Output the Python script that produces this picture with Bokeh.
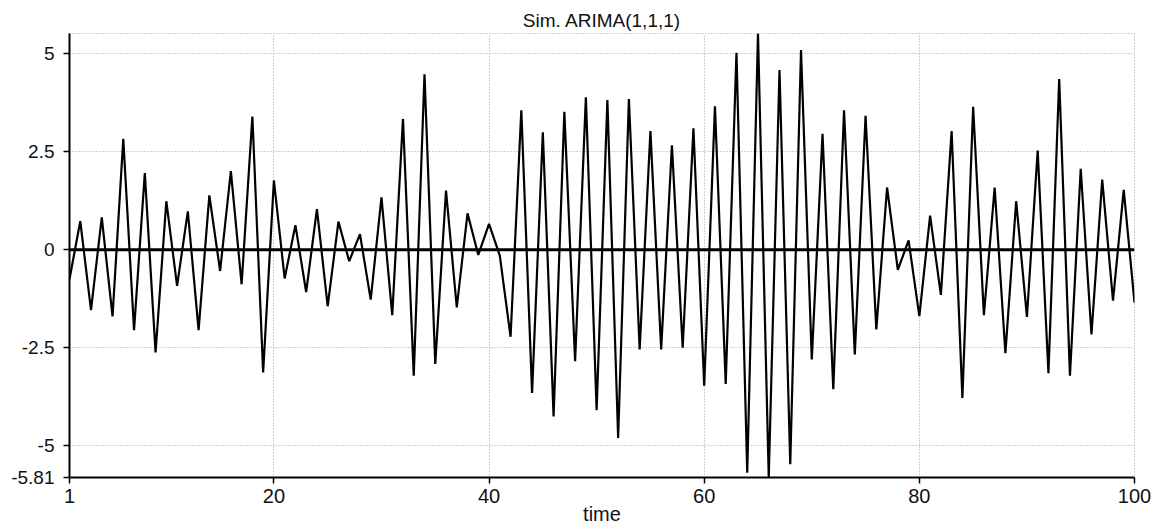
from bokeh.plotting import figure
from bokeh.models import Range1d, FixedTicker, Span
from bokeh.embed import file_html
from bokeh.resources import INLINE

# ---- data ----
time = list(range(1, 101))
values = [
    -0.75, 0.73, -1.54, 0.83, -1.70, 2.83, -2.05, 1.96, -2.62, 1.24,
    -0.92, 0.98, -2.05, 1.39, -0.54, 2.01, -0.88, 3.40, -3.13, 1.77,
    -0.73, 0.63, -1.08, 1.04, -1.44, 0.72, -0.29, 0.40, -1.27, 1.34,
    -1.67, 3.34, -3.21, 4.48, -2.91, 1.51, -1.47, 0.93, -0.13, 0.66,
    -0.15, -2.22, 3.56, -3.65, 3.00, -4.25, 3.52, -2.84, 3.89, -4.09,
    3.82, -4.80, 3.85, -2.54, 3.03, -2.54, 2.67, -2.50, 3.10, -3.47,
    3.66, -3.42, 5.03, -5.69, 5.52, -5.81, 4.59, -5.47, 5.10, -2.80,
    2.96, -3.56, 3.56, -2.67, 3.42, -2.03, 1.59, -0.51, 0.24, -1.69,
    0.87, -1.15, 3.03, -3.78, 3.65, -1.67, 1.59, -2.64, 1.24, -1.71,
    2.53, -3.15, 4.36, -3.21, 2.07, -2.16, 1.79, -1.30, 1.53, -1.35,
]
y_ticks = [-5.81, -5, -2.5, 0, 2.5, 5]
y_tick_labels = ["-5.81", "-5", "-2.5", "0", "2.5", "5"]
y_grid = [-5, -2.5, 2.5, 5]
x_ticks = [1, 20, 40, 60, 80, 100]
x_grid = [20, 40, 60, 80]
y_min, y_max = -5.81, 5.52
title_text = "Sim. ARIMA(1,1,1)"
x_label = "time"

FONT = "Liberation Sans"
GRID_COLOR = "#a0a0a0"

p = figure(
    width=1153, height=529,
    output_backend="svg", toolbar_location=None,
    x_range=Range1d(time[0], time[-1]), y_range=Range1d(y_min, y_max),
    title=title_text,
    min_border_left=69, min_border_right=19,
    min_border_top=33, min_border_bottom=52,
    background_fill_color="white", border_fill_color="white",
)

# grid
p.xgrid.ticker = FixedTicker(ticks=x_grid)
p.ygrid.ticker = FixedTicker(ticks=y_grid)
for g in (p.xgrid, p.ygrid):
    g.grid_line_color = GRID_COLOR
    g.grid_line_dash = "1 2"
    g.grid_line_width = 1

p.outline_line_color = GRID_COLOR
p.outline_line_dash = "1 2"
p.outline_line_width = 1

# zero line
p.add_layout(Span(location=0, dimension="width", line_color="black", line_width=3))

# series
p.line(time, values, line_color="black", line_width=2.2)

# axes
p.yaxis.ticker = FixedTicker(ticks=y_ticks)
p.yaxis.major_label_overrides = {t: s for t, s in zip(y_ticks, y_tick_labels)}
p.xaxis.ticker = FixedTicker(ticks=x_ticks)
for ax in (p.xaxis, p.yaxis):
    ax.axis_line_color = "black"
    ax.axis_line_width = 2
    ax.major_tick_line_color = "black"
    ax.major_tick_line_width = 1.5
    ax.major_tick_out = 6
    ax.major_tick_in = 0
    ax.minor_tick_line_color = None
    ax.major_label_text_font = FONT
    ax.major_label_text_color = "#111111"
p.yaxis.major_label_text_font_size = "19px"
p.xaxis.major_label_text_font_size = "20px"
p.yaxis.major_label_standoff = 9
p.xaxis.major_label_standoff = 5
p.xaxis.axis_label = x_label
p.xaxis.axis_label_text_font = FONT
p.xaxis.axis_label_text_font_size = "20px"
p.xaxis.axis_label_text_font_style = "normal"
p.xaxis.axis_label_text_color = "#111111"
p.xaxis.axis_label_standoff = -3

# title
p.title.align = "center"
p.title.text_font = FONT
p.title.text_font_size = "19px"
p.title.text_font_style = "normal"
p.title.text_color = "#111111"
p.title.standoff = 5

open("out.html", "w").write(file_html(p, INLINE))
